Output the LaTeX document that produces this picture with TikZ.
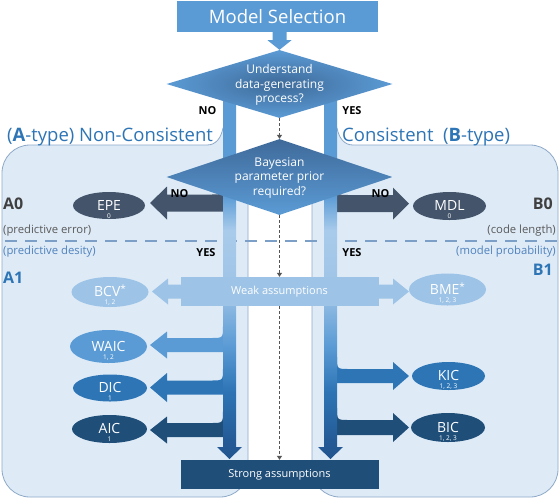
\documentclass[tikz,border=0pt]{standalone}
\usepackage{fontspec}
\setmainfont{Open Sans}
\usetikzlibrary{shapes.geometric,arrows.meta,calc}
\definecolor{msblue}{HTML}{5B9BD5}
\definecolor{lightblue}{HTML}{9DC3E6}
\definecolor{paleblue}{HTML}{DEEBF7}
\definecolor{midblue}{HTML}{2E75B6}
\definecolor{navy}{HTML}{1F4E79}
\definecolor{slate}{HTML}{44546A}
\definecolor{panelborder}{HTML}{8EA9C8}
\definecolor{sepblue}{HTML}{7B9FC7}
\definecolor{titleblue}{HTML}{2E75B6}
\definecolor{txtgray}{HTML}{404040}
\definecolor{partxt}{HTML}{595959}
\definecolor{parblue}{HTML}{4F81BD}
\definecolor{dashgray}{HTML}{555555}
\definecolor{dinner}{HTML}{3E6A99}
\definecolor{dtop}{HTML}{3F6A9A}
\definecolor{bA}{HTML}{5B9BD5}
\definecolor{bB}{HTML}{A9CBEB}
\definecolor{bC}{HTML}{9DC3E6}
\definecolor{bD}{HTML}{5B9BD5}
\definecolor{bE}{HTML}{2E75B6}
\definecolor{bF}{HTML}{245A96}
\definecolor{bG}{HTML}{22558F}
\pgfdeclareverticalshading{barshade}{100bp}{color(0bp)=(bG); color(25bp)=(bG); color(27.5bp)=(bF); color(34.5bp)=(bE); color(40.8bp)=(bD); color(48.5bp)=(bC); color(56.8bp)=(bB); color(61.7bp)=(bA); color(75bp)=(bA); color(100bp)=(bA)}
\newcommand\myLarrow[4]{\fill[#1] (167,#2-#3) -- (211,#2-#3) .. controls (223,#2-#3) .. (223,#2-#3-12) -- (230,#2-#3-12) -- (230,#2+#3) -- (167,#2+#3) -- (167,#2+#4) -- (150,#2) -- (167,#2-#4) -- cycle;}
\newcommand\myRarrow[4]{\fill[#1] (393,#2-#3) -- (349,#2-#3) .. controls (337,#2-#3) .. (337,#2-#3-12) -- (330,#2-#3-12) -- (330,#2+#3) -- (393,#2+#3) -- (393,#2+#4) -- (409,#2) -- (393,#2-#4) -- cycle;}
\tikzset{
  panel/.style={fill=paleblue, draw=panelborder, line width=0.8pt},
  sepline/.style={draw=sepblue, line width=2.5pt, dash pattern=on 12pt off 8pt},
  dasharr/.style={draw=dashgray, line width=1.1pt, dash pattern=on 3pt off 2pt, -{Triangle[width=5pt,length=4pt]}},
  ell/.style={ellipse, inner sep=0pt, draw=none},
  elab/.style={text=white, font=\fontsize{14}{14}\selectfont, inner sep=0pt, anchor=base},
  esub/.style={text=white, font=\fontsize{6.5}{6.5}\selectfont, inner sep=0pt, anchor=base},
  yn/.style={font=\bfseries\fontsize{11}{11}\selectfont, inner sep=0pt},
  dtext/.style={text=white, align=center, font=\fontsize{12}{14.5}\selectfont, inner sep=0pt},
  rectbox/.style={rectangle, inner sep=0pt, text=white, font=\fontsize{11}{11}\selectfont},
  dia/.style={diamond, inner sep=0pt, draw=none, minimum width=226pt},
  sidelab/.style={inner sep=0pt},
}
\begin{document}
\begin{tikzpicture}[x=1pt,y=-1pt]
\useasboundingbox (0,0) rectangle (559,499);
\fill[white] (0,0) rectangle (559,499);
% panels
\draw[panel] (223,128) -- (235,128) -- (235,165) -- (248,165) -- (248,469) .. controls (248,484.5) and (235.5,497) .. (220,497) -- (30,497) .. controls (14.5,497) and (2,484.5) .. (2,469) -- (2,173) .. controls (2,157.5) and (14.5,145) .. (30,145) -- (207,145) .. controls (216,145) and (221,138) .. (223,128) -- cycle;
\draw[panel] (337,128) -- (325,128) -- (325,165) -- (312,165) -- (312,469) .. controls (312,484.5) and (324.5,497) .. (340,497) -- (530,497) .. controls (545.5,497) and (558,484.5) .. (558,469) -- (558,173) .. controls (558,157.5) and (545.5,145) .. (530,145) -- (353,145) .. controls (344,145) and (339,138) .. (337,128) -- cycle;
\draw[sepline] (5,241) -- (557,241);
% side arrows
\myLarrow{slate}{203}{8.5}{16.5}
\myRarrow{slate}{203.5}{8.5}{16}
\myLarrow{msblue}{345}{7}{13.5}
\myLarrow{midblue}{387.5}{7}{14.5}
\myLarrow{navy}{430}{7}{13.5}
\myRarrow{midblue}{376}{7}{14}
\myRarrow{navy}{427.5}{7.5}{14.5}
% bars
\shade[shading=barshade] (223,100) -- (236,100) -- (236,447) -- (242,447) -- (229.5,459) -- (217,447) -- (223,447) -- cycle;
\shade[shading=barshade] (324,100) -- (337,100) -- (337,447) -- (343,447) -- (330.5,459) -- (318,447) -- (324,447) -- cycle;
% weak band
\node[rectbox, fill=lightblue, minimum width=198pt, minimum height=29pt] (weak) at (279.5,291.5) {Weak assumptions};
\fill[lightblue] (181,284.5) -- (168,284.5) -- (168,278.5) -- (152,291.5) -- (168,304.5) -- (168,298.5) -- (181,298.5) -- cycle;
\fill[lightblue] (378,284.5) -- (393,284.5) -- (393,278.5) -- (409,291.5) -- (393,304.5) -- (393,298.5) -- (378,298.5) -- cycle;
% strong box
\node[rectbox, fill=navy, minimum width=198pt, minimum height=29pt] (strong) at (279.5,474.5) {Strong assumptions};
% diamonds
\node[dia, minimum height=68pt, shading=radial, inner color=dinner, outer color=msblue] (d1) at (279.5,84) {};
\node[dia, minimum height=76pt, top color=dtop, bottom color=msblue] (d2) at (279.5,177) {};
\node[dtext] (d1t) at (279.5,85) {Understand\\data-generating\\process?};
\node[dtext] (d2t) at (279.5,178) {Bayesian\\parameter prior\\required?};
% model selection
\node[rectbox, fill=msblue, minimum width=201pt, minimum height=31pt, font=\fontsize{18.5}{18.5}\selectfont] (ms) at (277.5,16.5) {Model Selection};
\coordinate (msa) at (ms.south -| d1.north);
\fill[msblue] ($(msa)+(-7,0)$) -- ($(msa)+(7,0)$) -- ($(msa)+(7,8)$) -- ($(msa)+(12,8)$) -- (d1.north) -- ($(msa)+(-12,8)$) -- ($(msa)+(-7,8)$) -- cycle;
% dashed center arrows
\draw[dasharr] (d1.south) -- (d2.north);
\draw[dasharr] (d2.south) -- (weak.north);
\draw[dasharr] (weak.south) -- (strong.north);
% ellipses
\node[ell, fill=slate, minimum width=72pt, minimum height=27pt] (EPE) at (109,205.5) {};
\node[ell, fill=slate, minimum width=73pt, minimum height=28pt] (MDL) at (449.5,206) {};
\node[ell, fill=lightblue, minimum width=77pt, minimum height=30pt] (BCV) at (110,292) {};
\node[ell, fill=lightblue, minimum width=77pt, minimum height=32pt] (BME) at (447.5,289.5) {};
\node[ell, fill=msblue, minimum width=77pt, minimum height=33pt] (WAIC) at (108.5,346.5) {};
\node[ell, fill=midblue, minimum width=74pt, minimum height=27pt] (DIC) at (110,388) {};
\node[ell, fill=navy, minimum width=75pt, minimum height=28pt] (AIC) at (109.5,429) {};
\node[ell, fill=midblue, minimum width=73pt, minimum height=28pt] (KIC) at (448.5,376) {};
\node[ell, fill=navy, minimum width=74pt, minimum height=29pt] (BIC) at (448,427.5) {};
\foreach \n/\t/\s in {EPE/EPE/0, MDL/MDL/0, WAIC/WAIC/{1, 2}, DIC/DIC/1, AIC/AIC/1, KIC/KIC/{1, 2, 3}, BIC/BIC/{1, 2, 3}}{
  \node[elab] (\n t) at ($(\n.center)+(0,4.5)$) {\t};
  \node[esub] (\n s) at ($(\n.center)+(0,12.5)$) {\s};
}
\node[elab] (BCVt) at ($(BCV.center)+(0,4.5)$) {BCV\raisebox{4pt}{\fontsize{10}{10}\selectfont *}};
\node[esub] (BCVs) at ($(BCV.center)+(0,12.5)$) {1, 2};
\node[elab] (BMEt) at ($(BME.center)+(0,4.5)$) {BME\raisebox{4pt}{\fontsize{10}{10}\selectfont *}};
\node[esub] (BMEs) at ($(BME.center)+(0,12.5)$) {1, 2, 3};
% yes/no
\node[yn] (no1) at (207.5,111) {NO};
\node[yn] (yes1) at (352,111) {YES};
\node[yn] (no2) at (179.5,194) {NO};
\node[yn] (no3) at (380.5,194) {NO};
\node[yn] (yes2) at (206,252.5) {YES};
\node[yn] (yes3) at (352,252.5) {YES};
% headings
\node[sidelab, anchor=base west, text=titleblue, font=\fontsize{18.5}{18.5}\selectfont] (hA) at (7,141) {(\textbf{A}-type) Non-Consistent};
\node[sidelab, anchor=base west, text=titleblue, font=\fontsize{18.5}{18.5}\selectfont] (hB) at (342,141) {Consistent\ \ (\textbf{B}-type)};
\node[sidelab, anchor=base west, text=txtgray, font=\bfseries\fontsize{16}{16}\selectfont] (A0) at (3,209) {A0};
\node[sidelab, anchor=west, text=partxt, font=\fontsize{11.3}{11.3}\selectfont] (pe) at (3,230.5) {(predictive error)};
\node[sidelab, anchor=west, text=parblue, font=\fontsize{11.3}{11.3}\selectfont] (pd) at (3,251.5) {(predictive desity)};
\node[sidelab, anchor=base west, text=titleblue, font=\bfseries\fontsize{16}{16}\selectfont] (A1) at (3,283) {A1};
\node[sidelab, anchor=base east, text=txtgray, font=\bfseries\fontsize{16}{16}\selectfont] (B0) at (553,209.5) {B0};
\node[sidelab, anchor=east, text=partxt, font=\fontsize{11.3}{11.3}\selectfont] (cl) at (556,230.5) {(code length)};
\node[sidelab, anchor=east, text=parblue, font=\fontsize{11.3}{11.3}\selectfont] (mp) at (556,252) {(model probability)};
\node[sidelab, anchor=base east, text=titleblue, font=\bfseries\fontsize{16}{16}\selectfont] (B1) at (553,275) {B1};
\end{tikzpicture}
\end{document}
